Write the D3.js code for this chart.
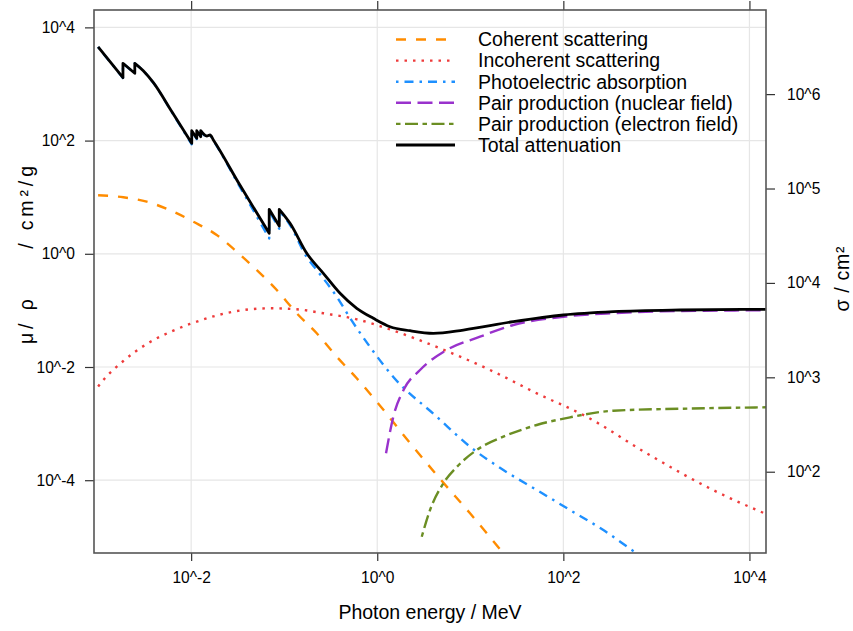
<!DOCTYPE html>
<html><head><meta charset="utf-8">
<script src="https://cdn.jsdelivr.net/npm/d3@7/dist/d3.min.js"></script>
<style>
body{margin:0;background:#fff}
text{font-family:"Liberation Sans",Arial,Helvetica,sans-serif;fill:#000}
</style>
</head><body>
<svg id="chart" width="853" height="631"></svg>
<script>
// ---------- data (energy in MeV, mass attenuation in cm^2/g) ----------
const seriesNames = ["Coherent scattering","Incoherent scattering","Photoelectric absorption",
  "Pair production (nuclear field)","Pair production (electron field)","Total attenuation"];

const coherentE  = [0.001,0.001868,0.003332,0.006436,0.01056,0.01884,0.0309,0.0507,0.0832,0.1364,0.2238,0.367,0.602,0.9877,2.075,4.85,9.94,22.5,26.7];
const coherentMu = [10.85,9.96,8.33,5.54,3.69,2.148,1.089,0.517,0.2293,0.0889,0.0394,0.0152,6.32e-3,2.44e-3,5.35e-4,1.008e-4,2.60e-5,5.17e-6,3.67e-6];

const incoherentE  = [0.001,0.001138,0.001868,0.003332,0.00593,0.00973,0.01884,0.03353,0.07047,0.1364,0.2635,0.602,1.373,4.73,16.31,51.8,178.4,787,4064,15070];
const incoherentMu = [4.52e-3,5.89e-3,0.01276,0.0255,0.04153,0.05751,0.0813,0.0996,0.1089,0.1046,0.0889,0.0696,0.046,0.0214,8.85e-3,3.43e-3,1.32e-3,2.99e-4,6.71e-5,2.53e-5];

const photoE  = [0.001,0.00185,0.00185,0.00248,0.00248,0.00306,0.00393,0.00624,0.01015,0.01015,0.01149,0.01149,0.01268,0.01268,0.01472,0.01596,0.01733,0.03353,0.0690,0.0690,0.0885,0.0885,0.1156,0.1748,0.2238,0.367,0.510,0.8368,1.489,4.36,9.94,22.66,51.8,118,269,615,852];
const photoMu = [4497,1280,2310,1536,2311,1709,1046,313,85.8,145.8,106.3,146.1,113.9,146.4,117.6,122.8,99.9,15.05,1.87,5.69,2.78,5.79,3.21,0.87,0.517,0.1746,0.0734,0.02257,6.66e-3,1.324e-3,3.91e-4,1.514e-4,6.71e-5,2.97e-5,1.318e-5,5.11e-6,3.6e-6];

const pairNucE  = [1.243,1.489,1.941,2.884,5.58,12.73,29.0,100,345,1795,15000];
const pairNucMu = [2.99e-4,1.324e-3,4.08e-3,8.85e-3,0.01998,0.0343,0.0552,0.0774,0.0895,0.0975,0.1005];

const pairElE  = [3.008,3.693,5.133,7.152,11.73,22.66,51.8,118,344.6,1795,15070];
const pairElMu = [1.004e-5,2.975e-5,8.81e-5,1.71e-4,3.42e-4,5.87e-4,9.45e-4,1.292e-3,1.69e-3,1.83e-3,1.94e-3];

const totalE  = [0.001,0.00185,0.00185,0.00248,0.00248,0.00306,0.00393,0.00624,0.01015,0.01015,0.01149,0.01149,0.01268,0.01268,0.01472,0.01596,0.01733,0.03353,0.0690,0.0690,0.0885,0.0885,0.1156,0.1748,0.2635,0.3983,0.6021,0.908,1.373,2.251,4.009,8.42,29.0,100,345,1795,15000];
const totalMu = [4508,1292,2320,1545,2320,1718,1054,319,89.6,149.6,109.8,149.6,117.2,149.6,120.5,125.6,102.5,16.2,2.30,6.11,3.10,6.11,3.46,1.02,0.452,0.2005,0.1089,0.0725,0.0515,0.0438,0.0394,0.0450,0.0632,0.0829,0.0948,0.1016,0.1046];

const xTicks = [1e-2,1,1e2,1e4];
const xTickLabels = ["10^-2","10^0","10^2","10^4"];
const yTicks = [1e-4,1e-2,1,1e2,1e4];
const yTickLabels = ["10^-4","10^-2","10^0","10^2","10^4"];
const y2Ticks = [1e2,1e3,1e4,1e5,1e6];
const y2TickLabels = ["10^2","10^3","10^4","10^5","10^6"];

// ---------- styles ----------
const colors = ["#FF8C00","#EE3B3B","#1E90FF","#9932CC","#6B8E23","#000000"];
const dashes = ["10,10","2.5,6","2.5,6,9,6","15,6.5","4.5,4.5,13,4.5",null];
const widths = [2.4,2.4,2.4,2.4,2.4,2.8];

// ---------- layout ----------
const L=94, R=766, T=10, B=553;
const svg = d3.select("#chart");
const x  = d3.scaleLog().domain([Math.pow(10,-3.044),Math.pow(10,4.178)]).range([L,R]);
const y  = d3.scaleLog().domain([Math.pow(10,-5.286),Math.pow(10,4.307)]).range([B,T]);
const y2 = d3.scaleLog().domain([Math.pow(10,1.139),Math.pow(10,6.891)]).range([B,T]);

svg.append("defs").append("clipPath").attr("id","clip")
  .append("rect").attr("x",L).attr("y",T).attr("width",R-L).attr("height",B-T);

// grid
const grid = svg.append("g").attr("stroke","#e6e6e6").attr("stroke-width",1.2);
grid.selectAll("line.v").data(xTicks).join("line")
  .attr("x1",d=>x(d)).attr("x2",d=>x(d)).attr("y1",T).attr("y2",B);
grid.selectAll("line.h").data(yTicks).join("line")
  .attr("y1",d=>y(d)).attr("y2",d=>y(d)).attr("x1",L).attr("x2",R);

// series: smooth pieces between absorption edges (repeated energies), joined by vertical jumps
const smooth = d3.line().x(d=>x(d[0])).y(d=>y(d[1])).curve(d3.curveMonotoneX);
function seriesPath(E, Mu){
  const pts = E.map((e,j)=>[e,Mu[j]]);
  const segs = [[pts[0]]];
  for(let j=1;j<pts.length;j++){
    if(pts[j][0]===pts[j-1][0]) segs.push([pts[j]]);
    else segs[segs.length-1].push(pts[j]);
  }
  return segs.map((s,k)=>{
    let d = s.length>1 ? smooth(s) : `M${x(s[0][0])},${y(s[0][1])}`;
    return k===0 ? d : "L"+d.slice(1);
  }).join("");
}
const series = [
  [coherentE,coherentMu],[incoherentE,incoherentMu],[photoE,photoMu],
  [pairNucE,pairNucMu],[pairElE,pairElMu],[totalE,totalMu]
];
const plot = svg.append("g").attr("clip-path","url(#clip)");
series.forEach((s,i)=>{
  plot.append("path").attr("d",seriesPath(s[0],s[1]))
    .attr("fill","none").attr("stroke",colors[i]).attr("stroke-width",widths[i])
    .attr("stroke-dasharray",dashes[i]).attr("stroke-linejoin","round");
});

// axes
function styleAxis(g){
  g.select(".domain").remove();
  g.selectAll(".tick line").attr("stroke","#333").attr("stroke-width",1.2);
  g.selectAll(".tick text").style("font-size","15.6px").attr("fill","#000");
}
svg.append("g").attr("transform",`translate(0,${B})`)
  .call(d3.axisBottom(x).tickValues(xTicks).tickFormat((d,i)=>xTickLabels[i]).tickSize(8).tickPadding(11))
  .call(styleAxis);
svg.append("g").attr("transform",`translate(0,${T})`)
  .call(d3.axisTop(x).tickValues(xTicks).tickFormat("").tickSize(9))
  .call(styleAxis);
svg.append("g").attr("transform",`translate(${L},0)`)
  .call(d3.axisLeft(y).tickValues(yTicks).tickFormat((d,i)=>yTickLabels[i]).tickSize(9).tickPadding(10))
  .call(styleAxis);
svg.append("g").attr("transform",`translate(${R},0)`)
  .call(d3.axisRight(y2).tickValues(y2Ticks).tickFormat((d,i)=>y2TickLabels[i]).tickSize(9).tickPadding(12))
  .call(styleAxis);

// frame
svg.append("rect").attr("x",L).attr("y",T).attr("width",R-L).attr("height",B-T)
  .attr("fill","none").attr("stroke","#555").attr("stroke-width",1.6);

// titles
svg.append("text").attr("x",430).attr("y",619).attr("text-anchor","middle")
  .style("font-size","19.5px").text("Photon energy / MeV");
svg.append("text").attr("transform","translate(33,255) rotate(-90)").attr("text-anchor","middle")
  .attr("xml:space","preserve").style("white-space","pre")
  .attr("textLength",178).attr("lengthAdjust","spacing")
  .style("font-size","19.5px").text("μ/ ρ     / cm²/g");
svg.append("text").attr("transform","translate(849,279) rotate(-90)").attr("text-anchor","middle")
  .attr("textLength",65).attr("lengthAdjust","spacing")
  .style("font-size","19.5px").text("σ / cm²");

// legend
const lg = svg.append("g");
seriesNames.forEach((n,i)=>{
  const yy = 39.5 + i*21.1;
  lg.append("line").attr("x1",396).attr("x2",455).attr("y1",yy).attr("y2",yy)
    .attr("stroke",colors[i]).attr("stroke-width",widths[i]).attr("stroke-dasharray",dashes[i]);
  lg.append("text").attr("x",478).attr("y",yy).attr("dy","0.35em")
    .style("font-size","19.5px").text(n);
});
</script>
</body></html>
